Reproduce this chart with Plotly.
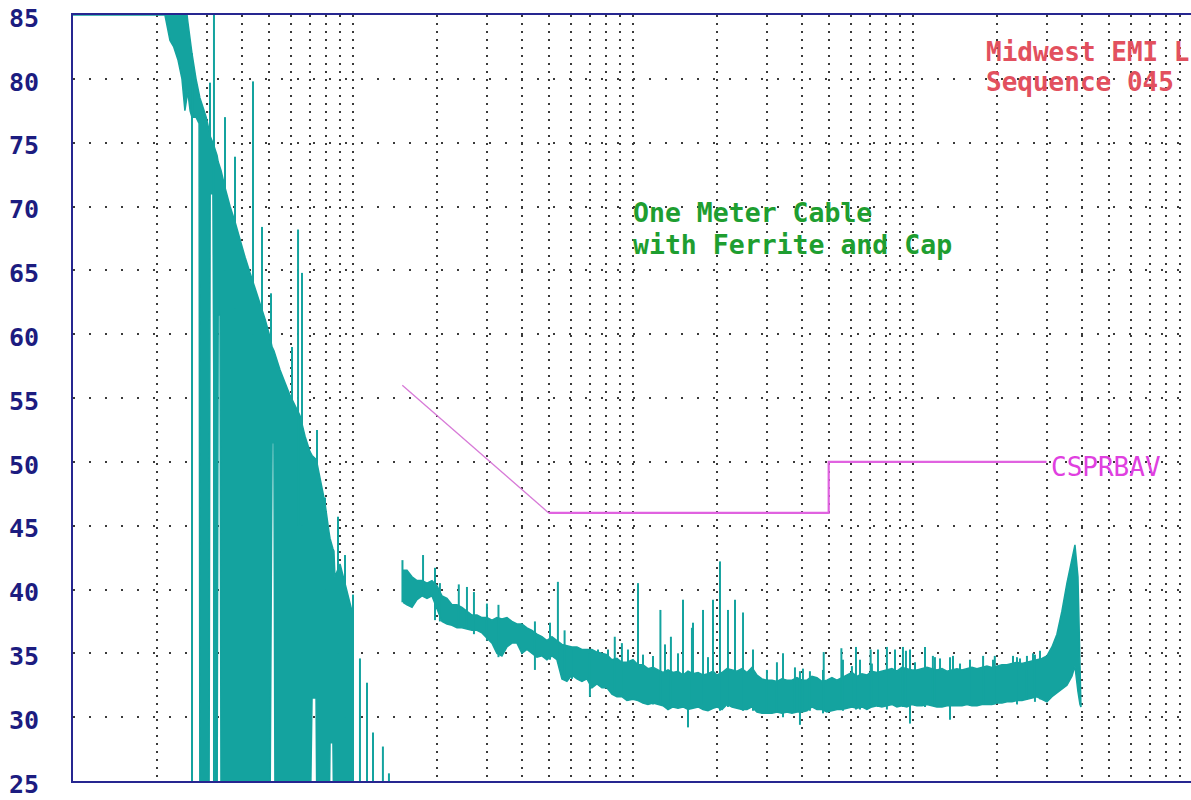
import math
import plotly.graph_objects as go

# ---------------- data ----------------
# Low-frequency sweep 10 kHz .. 150 kHz : min/max envelope of the trace (dBuV)
LF_FREQ_MHZ = [0.0100, 0.0200, 0.0213, 0.0222, 0.0229, 0.0237, 0.0245, 0.0251, 0.0257, 0.0262,
               0.0266, 0.0275, 0.0282, 0.0284, 0.0291, 0.0299, 0.0306, 0.0309, 0.0316, 0.0324,
               0.0327, 0.0330, 0.0335, 0.0338, 0.0349, 0.0364, 0.0379, 0.0395, 0.0412, 0.0429,
               0.0447, 0.0466, 0.0485, 0.0505, 0.0514, 0.0522, 0.0527, 0.0549, 0.0572, 0.0596,
               0.0621, 0.0647, 0.0674, 0.0702, 0.0714, 0.0738, 0.0744, 0.0762, 0.0794, 0.0821,
               0.0828, 0.0848, 0.0855, 0.0862, 0.0899, 0.0936, 0.0976, 0.1000]
LF_HIGH_DB = [85, 85, 85, 90, 90, 90, 88, 86.5, 84.5, 83,
              82, 80, 79, 78.5, 77.8, 77, 76, 75.5, 75, 74.3,
              74, 73.5, 73, 72.8, 71.5, 70, 68.8, 67.3, 66, 64.8,
              63.6, 62.5, 61.2, 59.8, 59, 58.7, 58.4, 57.2, 56.2, 55.2,
              54.4, 53.6, 52, 50.8, 50.5, 50.2, 49.9, 48.7, 46.8, 44.5,
              44, 43.2, 43, 41, 42, 40.5, 39, 38]
LF_LOW_DB = [85, 85, 85, 83, 82.5, 81.5, 80, 77.5, 79, 77.5,
             77, 77, 76.5, 20, 20, 20, 20, 71, 71, 20,
             20, 61.5, 61.5, 20, 20, 20, 20, 20, 20, 20,
             20, 20, 20, 20, 51.5, 51.5, 20, 20, 20, 20,
             20, 20, 20, 20, 31.5, 31.5, 20, 20, 20, 20,
             28, 28, 20, 20, 20, 20, 20, 20]
LF_SPIKE_FREQ = [0.02661, 0.03085, 0.03188, 0.03490, 0.03790, 0.04395, 0.04732, 0.05095, 0.06056,
                 0.06364, 0.06576, 0.07438, 0.07943, 0.08841, 0.09363, 0.1000, 0.1059, 0.1122,
                 0.1179, 0.1279, 0.1344]
LF_SPIKE_TOP = [82, 79.7, 90, 77, 73.9, 79.8, 68.4, 63.2, 59,
                68.2, 64.8, 52.5, 47.2, 45.7, 42.7, 39.6, 34.6, 32.7,
                28.8, 27.7, 25.6]
LF_SPIKE_BASE = [20, 71, 20, 65, 62, 60, 55, 50, 48,
                 45, 45, 40, 40, 35, 30, 20, 20, 20,
                 20, 20, 20]

# Main sweep 150 kHz .. 40 MHz : min/max envelope of the trace (dBuV)
HF_FREQ_MHZ = [0.1509, 0.1559, 0.1625, 0.1693, 0.1764, 0.1838, 0.1915, 0.1995, 0.2079, 0.2166,
               0.2257, 0.2352, 0.2450, 0.2553, 0.2660, 0.2772, 0.2888, 0.3009, 0.3136, 0.3267,
               0.3404, 0.3547, 0.3696, 0.3851, 0.4012, 0.4181, 0.4356, 0.4539, 0.4729, 0.4928,
               0.5135, 0.5350, 0.5575, 0.5809, 0.6052, 0.6306, 0.6571, 0.6847, 0.7134, 0.7433,
               0.7745, 0.8070, 0.8409, 0.8762, 0.9129, 0.9512, 1.000, 1.042, 1.086, 1.131,
               1.179, 1.228, 1.280, 1.334, 1.390, 1.448, 1.509, 1.572, 1.638, 1.707,
               1.779, 1.853, 1.931, 1.995, 2.079, 2.166, 2.257, 2.352, 2.450, 2.553,
               2.660, 2.772, 2.888, 3.009, 3.136, 3.267, 3.404, 3.547, 3.696, 3.851,
               4.012, 4.181, 4.356, 4.539, 4.729, 4.928, 5.135, 5.350, 5.575, 5.809,
               6.052, 6.306, 6.571, 6.847, 7.134, 7.433, 7.745, 8.070, 8.409, 8.762,
               9.129, 9.512, 9.918, 10.33, 10.77, 11.22, 11.69, 12.18, 12.69, 13.22,
               13.78, 14.36, 14.96, 15.59, 16.24, 16.92, 17.63, 18.37, 19.14, 19.95,
               20.79, 21.66, 22.57, 23.52, 24.50, 25.53, 26.60, 27.72, 28.88, 30.09,
               31.36, 32.67, 34.04, 35.47, 36.96, 37.89, 38.84, 39.48, 39.81]
HF_HIGH_DB = [41.5, 41.5, 41.0, 40.7, 40.7, 40.5, 40.7, 40.3, 39.5, 39.3,
              38.8, 38.8, 38.6, 38.3, 38.0, 38.0, 37.8, 37.8, 37.6, 37.8,
              37.7, 37.8, 37.5, 37.3, 37.3, 37.0, 36.8, 36.5, 36.3, 36.0,
              36.3, 36.0, 35.7, 35.6, 35.5, 35.5, 35.3, 35.3, 35.3, 35.1,
              35.0, 34.9, 34.5, 34.6, 34.3, 34.3, 34.5, 34.1, 34.1, 33.8,
              33.9, 33.7, 33.5, 33.7, 33.5, 33.6, 33.3, 33.6, 33.4, 33.5,
              33.3, 33.4, 33.6, 33.3, 33.5, 33.8, 33.7, 33.6, 33.8, 33.5,
              33.9, 33.3, 33.0, 32.9, 32.9, 32.8, 33.0, 32.9, 32.9, 33.1,
              32.9, 32.9, 33.2, 33.1, 32.8, 32.9, 33.1, 32.9, 33.1, 33.3,
              33.5, 33.2, 33.4, 33.3, 33.6, 33.5, 33.6, 33.7, 33.8, 33.6,
              33.9, 33.8, 33.7, 33.7, 33.8, 33.9, 33.8, 33.7, 33.8, 33.6,
              33.7, 33.8, 33.7, 33.8, 33.9, 33.8, 33.9, 34.0, 33.9, 34.0,
              34.1, 34.1, 34.2, 34.3, 34.2, 34.3, 34.4, 34.5, 34.6, 34.8,
              35.5, 36.5, 38.3, 40.5, 42.5, 43.5, 41.0, 34.0, 31.5]
HF_LOW_DB = [39.0, 38.8, 38.6, 39.2, 39.5, 39.3, 39.5, 38.5, 37.5, 37.3,
             37.2, 37.0, 37.0, 36.9, 36.8, 36.8, 36.6, 36.2, 35.8, 35.0,
             34.8, 35.5, 35.8, 35.8, 35.0, 35.3, 35.0, 34.7, 34.8, 34.5,
             34.8, 34.5, 33.0, 32.8, 33.3, 33.0, 32.8, 33.0, 32.3, 32.6,
             32.3, 32.3, 31.8, 31.6, 31.6, 31.3, 31.4, 31.3, 31.1, 31.0,
             31.1, 31.0, 30.9, 30.6, 30.8, 30.7, 30.8, 30.6, 30.7, 30.8,
             30.6, 30.5, 30.7, 30.8, 30.6, 31.0, 30.8, 30.7, 30.6, 30.6,
             30.8, 30.4, 30.3, 30.3, 30.3, 30.4, 30.3, 30.4, 30.3, 30.4,
             30.4, 30.5, 30.8, 30.6, 30.6, 30.4, 30.5, 30.6, 30.6, 30.7,
             30.8, 30.7, 30.8, 30.6, 30.8, 30.9, 30.8, 30.9, 31.0, 30.8,
             30.9, 30.8, 31.0, 30.9, 30.9, 31.0, 30.9, 30.8, 30.8, 30.9,
             30.9, 30.9, 30.9, 31.0, 30.9, 30.9, 31.0, 31.0, 31.0, 31.1,
             31.1, 31.2, 31.2, 31.3, 31.3, 31.4, 31.5, 31.6, 31.4, 31.2,
             31.6, 31.9, 32.2, 32.5, 33.2, 34.0, 32.0, 31.0, 30.8]
HF_SPIKE_FREQ = [0.1502, 0.1779, 0.1963, 0.2044, 0.2387, 0.2553, 0.2704, 0.3009, 0.3308, 0.4465,
                 0.5053, 0.5393, 0.5698, 0.6055, 0.6576, 0.7018, 0.7499, 0.8142, 0.8609, 0.9129,
                 0.9597, 1.042, 1.086, 1.179, 1.253, 1.301, 1.366, 1.448, 1.509, 1.572,
                 1.624, 1.638, 1.779, 1.853, 1.931, 2.045, 2.184, 2.314, 2.472, 2.683,
                 3.009, 3.267, 3.434, 3.789, 3.948, 4.046, 4.285, 4.771, 4.80, 5.55,
                 5.623, 6.052, 6.258, 6.469, 7.06, 7.134, 7.499, 8.070, 8.625, 9.21,
                 9.44, 9.757, 10.17, 11.04, 11.78, 11.98, 12.49, 13.56, 13.90, 14.72,
                 15.98, 17.8, 19.31, 19.6, 22.76, 23.52, 24.11, 25.53, 26.83, 27.27,
                 28.42]
HF_SPIKE_TOP = [42.3, 42.7, 41.7, 40.5, 40.4, 40.2, 39.8, 38.9, 38.8, 37.5,
                37.4, 40.6, 36.8, 35.3, 35.3, 35.0, 35.3, 35.3, 36.3, 35.8,
                35.3, 40.5, 34.9, 34.8, 38.4, 35.7, 36.3, 35.0, 39.2, 33.0,
                37.0, 37.4, 38.4, 34.7, 39.2, 42.2, 38.4, 39.2, 38.2, 35.3,
                33.7, 34.3, 35.0, 33.9, 33.6, 33.8, 33.6, 33.7, 35.1, 35.4,
                34.5, 34.0, 35.5, 34.5, 35.3, 34.2, 35.3, 35.5, 35.3, 35.5,
                35.2, 35.3, 34.3, 35.5, 34.8, 34.7, 34.6, 34.7, 34.8, 34.2,
                34.5, 34.8, 34.5, 34.8, 34.8, 34.7, 34.6, 34.8, 35.0, 34.9,
                35.2]
HF_SPIKE_BASE = [39.0, 39.5, 37.6, 37.5, 37.0, 37.0, 36.5, 36.0, 34.7, 33.7,
                 34.5, 34.5, 33.0, 33.0, 32.8, 31.6, 32.6, 32.3, 32.0, 31.8,
                 31.3, 31.5, 31.1, 31.0, 31.0, 31.0, 30.8, 30.7, 31.0, 29.2,
                 31.0, 31.0, 31.0, 30.5, 31.0, 30.5, 30.8, 30.8, 30.5, 30.5,
                 30.3, 30.4, 30.0, 30.4, 29.4, 30.4, 30.5, 30.3, 30.5, 30.6,
                 30.5, 30.8, 30.6, 30.6, 30.8, 30.8, 30.8, 30.6, 30.9, 30.8,
                 30.8, 29.5, 30.9, 30.8, 30.9, 30.8, 30.8, 29.8, 30.9, 30.9,
                 30.9, 31.0, 31.0, 31.0, 31.2, 31.0, 31.3, 31.4, 31.5, 31.2,
                 31.4]

# CISPR class B average limit
LIMIT_FREQ_MHZ = [0.15, 0.5, 5.0, 5.0, 30.0]
LIMIT_DB = [56, 46, 46, 50, 50]
LIMIT_NAME = "CSPRBAV"

Y_TICKS = [25, 30, 35, 40, 45, 50, 55, 60, 65, 70, 75, 80, 85]
X_GRID_MHZ = [0.02, 0.03, 0.04, 0.05, 0.06, 0.07, 0.08, 0.09,
              0.1, 0.2, 0.3, 0.4, 0.5, 0.6, 0.7, 0.8, 0.9,
              1, 2, 3, 4, 5, 6, 7, 8, 9,
              10, 20, 30, 40, 50, 60, 70, 80, 90]
X_RANGE_MHZ = (0.01, 98.4)

NOTE_LINES = ["One Meter Cable", "with Ferrite and Cap"]
LAB_LINES = ["Midwest EMI L", "Sequence 045"]

# ---------------- styling ----------------
TEAL = "#14a39f"
NAVY = "#262690"
MAGENTA = "#e062e0"
W, H = 1191, 800
ML, MR, MT, MB = 73, 0, 15, 19
PW, PH = W - ML - MR, H - MT - MB
PLOT_LEFT, PLOT_BOTTOM = ML, H - MB


def px_x(p):
    return (p - PLOT_LEFT) / PW


def px_y(p):
    return (PLOT_BOTTOM - p) / PH


def spike_xy(freqs, tops, bases):
    xs, ys = [], []
    for f, t, b in zip(freqs, tops, bases):
        xs += [f, f, None]
        ys += [b, t, None]
    return xs, ys


fig = go.Figure()

# band polygons (min/max envelope of the scan)
for fr, hi, lo in [(LF_FREQ_MHZ, LF_HIGH_DB, LF_LOW_DB), (HF_FREQ_MHZ, HF_HIGH_DB, HF_LOW_DB)]:
    fig.add_trace(go.Scatter(
        x=list(fr) + list(fr[::-1]), y=list(hi) + list(lo[::-1]),
        mode="lines", fill="toself", fillcolor=TEAL,
        line=dict(color=TEAL, width=1.5), hoverinfo="skip", showlegend=False))

sx, sy = spike_xy(LF_SPIKE_FREQ + HF_SPIKE_FREQ, LF_SPIKE_TOP + HF_SPIKE_TOP,
                  LF_SPIKE_BASE + HF_SPIKE_BASE)
fig.add_trace(go.Scatter(x=sx, y=sy, mode="lines", line=dict(color=TEAL, width=2),
                         hoverinfo="skip", showlegend=False))

# limit line: thin sloped part, heavier flat part
fig.add_trace(go.Scatter(x=LIMIT_FREQ_MHZ[:2], y=LIMIT_DB[:2], mode="lines",
                         line=dict(color="#d77ad7", width=1.3), showlegend=False))
fig.add_trace(go.Scatter(x=LIMIT_FREQ_MHZ[1:], y=LIMIT_DB[1:], mode="lines",
                         line=dict(color=MAGENTA, width=2.2), showlegend=False))

fig.update_xaxes(
    type="log", range=[math.log10(X_RANGE_MHZ[0]), math.log10(X_RANGE_MHZ[1])],
    showline=True, linecolor=NAVY, linewidth=2, mirror=True,
    showgrid=True, gridcolor="#3a3a3a", gridwidth=2, griddash="2px,6px",
    tickmode="array", tickvals=X_GRID_MHZ, showticklabels=False, ticks="",
    zeroline=False)
fig.update_yaxes(
    range=[25, 85], tickmode="array", tickvals=Y_TICKS,
    showline=True, linecolor=NAVY, linewidth=2, mirror=False,
    showgrid=True, gridcolor="#3a3a3a", gridwidth=2, griddash="2px,14px",
    ticks="", ticklabelstandoff=27, ticklabelshift=3, ticklabeloverflow="allow",
    tickfont=dict(family="DejaVu Sans Mono", size=25, color="#1c1c80", weight="bold"),
    zeroline=False)

MONO = "DejaVu Sans Mono"
ann = []
for txt, cy in zip(NOTE_LINES, [213, 244]):
    ann.append(dict(text=txt, x=px_x(631), y=px_y(cy), xref="paper", yref="paper",
                    xanchor="left", yanchor="middle", showarrow=False,
                    font=dict(family=MONO, size=26.5, color="#1e9e30", weight="bold")))
for txt, cy in zip(LAB_LINES, [52, 82]):
    ann.append(dict(text=txt, x=px_x(984), y=px_y(cy), xref="paper", yref="paper",
                    xanchor="left", yanchor="middle", showarrow=False,
                    font=dict(family=MONO, size=26, color="#e2505e", weight="bold")))
ann.append(dict(text=LIMIT_NAME, x=px_x(1049), y=px_y(467), xref="paper", yref="paper",
                xanchor="left", yanchor="middle", showarrow=False,
                font=dict(family=MONO, size=26, color="#e040e0")))

fig.update_layout(
    width=W, height=H, margin=dict(l=ML, r=MR, t=MT, b=MB, pad=0),
    paper_bgcolor="white", plot_bgcolor="white", showlegend=False,
    annotations=ann)

# let the figure sit at the page origin (no default 8px body margin)
fig.write_html("out.html",
               config={"displayModeBar": False},
               post_script="document.body.style.margin='0';"
                           "document.documentElement.style.overflow='hidden';")
